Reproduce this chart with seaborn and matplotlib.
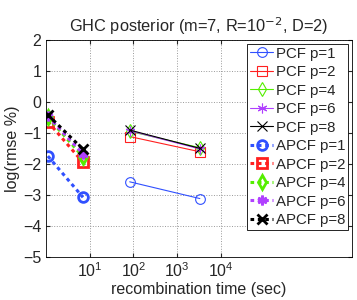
import numpy as np
import pandas as pd
import matplotlib
matplotlib.use("Agg")
import matplotlib.pyplot as plt
import seaborn as sns

# --- data ---
pcf_time = [82, 3300]
apcf_time = [1.1, 7.0]

pcf_p1 = [-2.58, -3.12]
pcf_p2 = [-1.12, -1.61]
pcf_p4 = [-0.95, -1.48]
pcf_p6 = [-0.93, -1.52]
pcf_p8 = [-0.91, -1.50]

apcf_p1 = [-1.75, -3.08]
apcf_p2 = [-0.64, -1.95]
apcf_p4 = [-0.50, -1.77]
apcf_p6 = [-0.47, -1.68]
apcf_p8 = [-0.42, -1.53]

p_values = [1, 2, 4, 6, 8]
colors = ["#3050ff", "#ff2020", "#55ee00", "#b040ff", "#000000"]
markers = ["o", "s", "d", (6, 2, 0), "x"]

sns.set_style("ticks")
plt.rcParams['font.family'] = ['Liberation Sans', 'DejaVu Sans']

fig = plt.figure(figsize=(3.57, 3.0), dpi=100)
ax = fig.add_axes([0.129, 0.144, 0.857, 0.723])

pcf_series = [pcf_p1, pcf_p2, pcf_p4, pcf_p6, pcf_p8]
apcf_series = [apcf_p1, apcf_p2, apcf_p4, apcf_p6, apcf_p8]

for p, vals, c, m in zip(p_values, pcf_series, colors, markers):
    df = pd.DataFrame({"t": pcf_time, "v": vals})
    sns.lineplot(data=df, x="t", y="v", ax=ax, color=c, marker=m,
                 markersize=7, markerfacecolor="none", markeredgecolor=c,
                 markeredgewidth=0.8, linewidth=0.8, label=f"PCF p={p}")

for p, vals, c, m in zip(p_values, apcf_series, colors, markers):
    df = pd.DataFrame({"t": apcf_time, "v": vals})
    sns.lineplot(data=df, x="t", y="v", ax=ax, color=c, marker=m,
                 markersize=7, markerfacecolor="none", markeredgecolor=c,
                 markeredgewidth=2.0, linewidth=2.2, linestyle=(0, (1.2, 1.2)),
                 label=f"APCF p={p}")

ax.set_xscale("log")
ax.set_xlim(1, 1e7)
ax.set_ylim(-5, 2)
ax.set_xticks([10, 100, 1000, 10000])
ax.xaxis.set_minor_locator(matplotlib.ticker.NullLocator())
ax.set_yticks(range(-5, 3))
ax.set_yticklabels([str(v).replace("-", "\u2212") for v in range(-5, 3)])
ax.tick_params(direction="in", labelsize=11.5, length=3, top=True, right=True)
ax.grid(True, linestyle=":", color="#999999", linewidth=0.7)
for s in ax.spines.values():
    s.set_linewidth(0.6)
    s.set_color("black")

ax.set_title("GHC posterior (m=7, R=10$^{-2}$, D=2)", fontsize=11.8, pad=6)
ax.set_xlabel("recombination time (sec)", fontsize=11.5, labelpad=1)
ax.set_ylabel("log(rmse %)", fontsize=11.5, labelpad=2)

leg = ax.legend(loc="upper right", fontsize=10.8, handlelength=1.5,
                handletextpad=0.2, labelspacing=0.3, borderpad=0.2,
                borderaxespad=0.25, fancybox=False, framealpha=1)
leg.get_frame().set_edgecolor("black")
leg.get_frame().set_linewidth(0.6)

fig.savefig("out.png", dpi=100)
